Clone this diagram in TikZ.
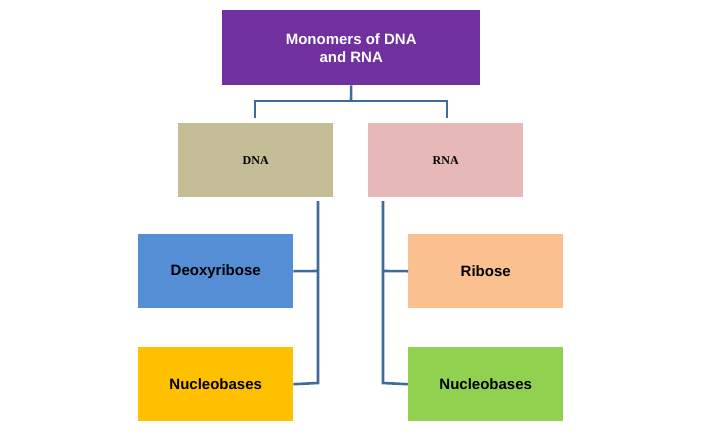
\documentclass[tikz,border=0pt]{standalone}
\usepackage{fontspec}
\setmainfont{Liberation Sans}
\newfontfamily\serifb{Liberation Serif}
\begin{document}
\begin{tikzpicture}[x=1pt,y=-1pt,
  box/.style={minimum width=155pt,minimum height=74pt,inner sep=0pt,anchor=north west,font=\bfseries\fontsize{15}{18}\selectfont},
  ln/.style={draw=black!10!blue!40!gray,line width=2.6pt,color={rgb,255:red,63;green,106;blue,154}}]
\useasboundingbox (0,0) rectangle (720,445);
\definecolor{pur}{RGB}{112,48,160}
\node[box,fill=pur,text=white,minimum width=258pt,minimum height=75pt,align=center] (top) at (222,10) {Monomers of DNA\\and RNA};
\node[box,fill={rgb,255:red,196;green,189;blue,151},font=\serifb\bfseries\fontsize{12}{14}\selectfont] (dna) at (178,123) {DNA};
\node[box,fill={rgb,255:red,230;green,185;blue,184},font=\serifb\bfseries\fontsize{12}{14}\selectfont] (rna) at (368,123) {RNA};
\node[box,fill={rgb,255:red,85;green,142;blue,213}] (deo) at (138,234) {Deoxyribose};
\node[box,fill={rgb,255:red,255;green,192;blue,0}] (nl) at (138,347) {Nucleobases};
\node[box,fill={rgb,255:red,250;green,192;blue,144}] (rib) at (408,234) {Ribose};
\node[box,fill={rgb,255:red,146;green,208;blue,80}] (nr) at (408,347) {Nucleobases};
\coordinate (j) at (351,101);
\draw[ln] (top.south) -- (j);
\draw[ln,line join=round] ([xshift=-96pt,yshift=-4pt]dna.north east -| 255,0) ;
\draw[ln] (255,118) -- (255,101) -- (447,101) -- (447,118);
\draw[ln] (318,201) -- (318,383) -- (nl.east);
\draw[ln] (deo.east) -- (318,271);
\draw[ln] (383,201) -- (383,383) -- (nr.west);
\draw[ln] (rib.west) -- (383,271);
\end{tikzpicture}
\end{document}
